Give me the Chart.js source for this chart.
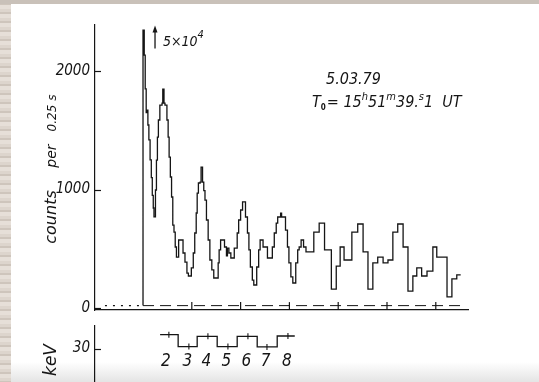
<!DOCTYPE html>
<html>
<head>
<meta charset="utf-8">
<script src="https://cdn.jsdelivr.net/npm/chart.js"></script>
<style>
html, body { margin: 0; padding: 0; }
body { width: 539px; height: 382px; overflow: hidden; position: relative; background: #fff; }
#edgeLeft { position: absolute; left: 0; top: 0; width: 11px; height: 382px;
  background: repeating-linear-gradient(180deg, #ddd5cd 0 3px, #cec5bc 3px 5px, #e6dfd8 5px 9px); }
#edgeTop { position: absolute; left: 0; top: 0; width: 539px; height: 4px; background: #c9c1b9; }
#edgeBottom { position: absolute; left: 0; top: 362px; width: 539px; height: 20px; background: linear-gradient(#fff, #e4e4e4); }
canvas { position: absolute; left: 0; }
#lc { top: 0; }
#en { top: 320px; }
</style>
</head>
<body>
<div id="edgeBottom"></div>
<div id="edgeLeft"></div>
<div id="edgeTop"></div>
<canvas id="lc" width="539" height="320"></canvas>
<canvas id="en" width="539" height="100"></canvas>
<script>
// light curve: time from T0 (s) where each step starts, counts per 0.25 s
const lcTime = [0, 0, 0.25, 0.45, 0.65, 0.8, 1.0, 1.2, 1.45, 1.7,
  1.9, 2.1, 2.25, 2.55, 2.75, 2.95, 3.15, 3.45, 3.9, 4.05,
  4.3, 4.5, 4.9, 5.15, 5.35, 5.6, 5.85, 6.1, 6.35, 6.6,
  6.85, 7.3, 8.2, 8.6, 9.0, 9.3, 9.9, 10.3, 10.6, 10.9,
  11.1, 11.35, 11.7, 11.9, 12.2, 12.45, 12.7, 13.0, 13.35, 13.7,
  14.1, 14.5, 15.4, 15.6, 15.9, 16.7, 17.1, 17.3, 17.6, 18.0,
  18.7, 19.3, 19.6, 20.0, 20.4, 21.0, 21.4, 21.7, 22.0, 22.4,
  22.7, 23.3, 23.7, 24.0, 24.6, 25.5, 26.5, 26.9, 27.3, 27.6,
  28.2, 28.4, 29.2, 29.6, 29.9, 30.3, 30.7, 31.3, 31.7, 32.0,
  32.4, 32.9, 33.4, 35.0, 36.1, 37.2, 38.6, 39.6, 40.4, 41.2,
  42.8, 44.0, 45.1, 46.1, 47.1, 48.1, 49.2, 50.2, 51.2, 52.2,
  53.3, 54.3, 55.3, 56.1, 57.1, 58.2, 59.4, 60.2, 62.3, 63.3,
  64.3, 65.1];
const lcCounts = [20, 2346, 2135, 1850, 1650, 1670, 1545, 1420, 1250, 1100,
  950, 844, 770, 996, 1249, 1443, 1587, 1713, 1730, 1848,
  1730, 1713, 1587, 1443, 1274, 1106, 937, 700, 641, 515,
  430, 574, 464, 388, 295, 270, 338, 464, 633, 802,
  970, 1055, 1063, 1190, 1063, 990, 911, 743, 574, 405,
  321, 253, 380, 490, 574, 515, 440, 506, 464, 422,
  506, 633, 743, 827, 895, 768, 633, 490, 346, 236,
  194, 346, 490, 574, 515, 422, 515, 633, 717, 768,
  800, 768, 658, 515, 380, 262, 211, 380, 490, 515,
  574, 515, 473, 641, 717, 490, 160, 354, 515, 405,
  641, 709, 473, 160, 380, 430, 380, 405, 641, 709,
  515, 143, 270, 338, 270, 312, 515, 430, 93, 245,
  279, 279];

const bgLevel = 20;
const bgTime = [0, 66];
const preTime = [-7.8, -0.6];
const markTimes = [10, 20, 30, 40, 50, 60];
const countTicks = [0, 1000, 2000];

// spectral hardness (keV) per half period, step edges in s
const eEdges = [3.5, 7.2, 11.1, 15.2, 19.3, 23.4, 27.5, 31.1];
const eValues = [34.1, 30.6, 33.6, 30.6, 33.6, 30.5, 33.7];
const eMarkTimes = [5.3, 9.4, 13.3, 17.4, 21.5, 25.4, 29.7];
const pulseNumbers = ['2', '3', '4', '5', '6', '7', '8'];
const pulseLabelTimes = [4.7, 9.1, 13.0, 17.1, 21.2, 25.1, 29.5];
const energyTicks = [30];

const INK = '#151515';
const NARROW = '"Liberation Sans Narrow", "DejaVu Sans Condensed", sans-serif';

const tMin = -9.84, tMax = 66.6;

const lcPoints = lcTime.map((t, i) => ({x: t, y: lcCounts[i]}));
const bgPoints = bgTime.map(t => ({x: t, y: bgLevel}));
const prePoints = preTime.map(t => ({x: t, y: bgLevel}));
const markPoints = markTimes.map(t => ({x: t, y: bgLevel}));

// small tick marks pointing into the plot
const innerTicks = {
  id: 'innerTicks',
  afterDraw(chart) {
    const ctx = chart.ctx, y = chart.scales.y;
    ctx.save();
    ctx.strokeStyle = INK;
    ctx.lineWidth = 1.2;
    y.ticks.forEach(t => {
      const py = Math.round(y.getPixelForValue(t.value)) + 0.5;
      ctx.beginPath();
      ctx.moveTo(y.right, py);
      ctx.lineTo(y.right + 6, py);
      ctx.stroke();
    });
    ctx.restore();
  }
};

function drawPieces(ctx, x, y, pieces) {
  pieces.forEach(p => {
    ctx.font = p.font;
    ctx.fillText(p.text, x, y + (p.dy || 0));
    x += ctx.measureText(p.text).width + (p.gap || 0);
  });
}

function fixAxisWidth(scale) {
  scale.width = 95;
  scale.paddingTop = 0;
  scale.paddingBottom = 0;
}

const lcText = {
  id: 'lcText',
  afterDraw(chart) {
    const ctx = chart.ctx, xs = chart.scales.x, ys = chart.scales.y;
    ctx.save();
    ctx.fillStyle = INK;
    ctx.strokeStyle = INK;

    // axis title, rotated
    const parts = [['counts', 16, 217], ['per', 14, 156], ['0.25 s', 12, 113]];
    parts.forEach(([txt, size, cy]) => {
      ctx.save();
      ctx.translate(56, cy);
      ctx.rotate(-Math.PI / 2);
      ctx.textAlign = 'center';
      ctx.textBaseline = 'alphabetic';
      ctx.font = 'italic ' + size + 'px "DejaVu Sans"';
      ctx.fillText(txt, 0, 0);
      ctx.restore();
    });

    // off-scale arrow for the first spike
    const ax = xs.getPixelForValue(2.46);
    const a0 = ys.getPixelForValue(2190), a1 = ys.getPixelForValue(2385);
    ctx.lineWidth = 1.3;
    ctx.beginPath();
    ctx.moveTo(ax, a0);
    ctx.lineTo(ax, a1 + 4);
    ctx.stroke();
    ctx.beginPath();
    ctx.moveTo(ax, a1);
    ctx.lineTo(ax - 2.5, a1 + 7);
    ctx.lineTo(ax + 2.5, a1 + 7);
    ctx.closePath();
    ctx.fill();

    ctx.textAlign = 'left';
    ctx.textBaseline = 'alphabetic';
    drawPieces(ctx, 163, 46, [
      {text: '5\u00d710', font: 'italic 14px ' + NARROW},
      {text: '4', font: 'italic 11px ' + NARROW, dy: -8}
    ]);

    ctx.font = 'italic 16px ' + NARROW;
    ctx.fillText('5.03.79', 326, 84);

    drawPieces(ctx, 312, 107, [
      {text: 'T', font: 'italic 16px ' + NARROW},
      {text: '0', font: 'bold 8px ' + NARROW, dy: 3, gap: 1},
      {text: '= 15', font: 'italic 16px ' + NARROW},
      {text: 'h', font: 'italic 11px ' + NARROW, dy: -7},
      {text: '51', font: 'italic 16px ' + NARROW},
      {text: 'm', font: 'italic 11px ' + NARROW, dy: -7},
      {text: '39.', font: 'italic 16px ' + NARROW},
      {text: 's', font: 'italic 11px ' + NARROW, dy: -7},
      {text: '1  UT', font: 'italic 16px ' + NARROW}
    ]);
    ctx.restore();
  }
};

new Chart(document.getElementById('lc').getContext('2d'), {
  type: 'line',
  data: {
    datasets: [{
      data: lcPoints,
      stepped: 'before',
      borderColor: INK,
      borderWidth: 1.3,
      pointRadius: 0,
      fill: false
    }, {
      data: bgPoints,
      borderColor: INK,
      borderWidth: 1,
      borderDash: [11, 6],
      pointRadius: 0
    }, {
      data: prePoints,
      borderColor: INK,
      borderWidth: 1.3,
      borderDash: [2, 6],
      pointRadius: 0
    }, {
      data: markPoints,
      showLine: false,
      pointStyle: 'line',
      rotation: 90,
      pointRadius: 3.5,
      borderColor: INK,
      borderWidth: 1.2
    }]
  },
  options: {
    responsive: false,
    animation: false,
    devicePixelRatio: 1,
    layout: { padding: { left: 0, right: 71, top: 25, bottom: 0 } },
    plugins: { legend: { display: false }, tooltip: { enabled: false } },
    scales: {
      x: {
        type: 'linear',
        min: tMin,
        max: tMax,
        grid: { display: false, drawTicks: false },
        ticks: { display: false },
        border: { display: true, color: INK, width: 1.2 },
        afterFit(scale) { scale.height = 10; }
      },
      y: {
        min: -17,
        max: 2389,
        grid: { display: false, drawTicks: false },
        border: { display: true, color: INK, width: 1.2 },
        ticks: {
          padding: 5,
          color: INK,
          font: { family: NARROW, size: 15, style: 'italic', lineHeight: 1 },
          callback: v => String(v)
        },
        afterBuildTicks(scale) { scale.ticks = countTicks.map(v => ({value: v})); },
        afterFit: fixAxisWidth
      }
    }
  },
  plugins: [innerTicks, lcText]
});

// lower panel
const ePoints = eEdges.map((t, i) => ({x: t, y: eValues[Math.min(i, eValues.length - 1)]}));
const eMarks = eMarkTimes.map((t, i) => ({x: t, y: eValues[i]}));

const enText = {
  id: 'enText',
  afterDraw(chart) {
    const ctx = chart.ctx, xs = chart.scales.x, ys = chart.scales.y;
    ctx.save();
    ctx.fillStyle = INK;
    ctx.font = 'italic 17px ' + NARROW;
    ctx.textAlign = 'center';
    ctx.textBaseline = 'middle';
    const ly = ys.getPixelForValue(Math.min(...eValues)) + 15;
    pulseNumbers.forEach((n, i) => ctx.fillText(n, xs.getPixelForValue(pulseLabelTimes[i]), ly));

    ctx.translate(56, 24);
    ctx.rotate(-Math.PI / 2);
    ctx.textAlign = 'right';
    ctx.textBaseline = 'alphabetic';
    ctx.font = 'italic 17px "DejaVu Sans"';
    ctx.fillText('E, keV', 0, 0);
    ctx.restore();
  }
};

new Chart(document.getElementById('en').getContext('2d'), {
  type: 'line',
  data: {
    datasets: [{
      data: ePoints,
      stepped: 'before',
      borderColor: INK,
      borderWidth: 1.3,
      pointRadius: 0
    }, {
      data: eMarks,
      showLine: false,
      pointStyle: 'line',
      rotation: 90,
      pointRadius: 3,
      borderColor: INK,
      borderWidth: 1.1
    }]
  },
  options: {
    responsive: false,
    animation: false,
    devicePixelRatio: 1,
    layout: { padding: { left: 0, right: 71, top: 5, bottom: 20 } },
    plugins: { legend: { display: false }, tooltip: { enabled: false } },
    scales: {
      x: { type: 'linear', min: tMin, max: tMax, display: false },
      y: {
        min: 14.9,
        max: 36.9,
        grid: { display: false, drawTicks: false },
        border: { display: true, color: INK, width: 1.2 },
        ticks: {
          padding: 5,
          color: INK,
          font: { family: NARROW, size: 15, style: 'italic', lineHeight: 1 }
        },
        afterBuildTicks(scale) { scale.ticks = energyTicks.map(v => ({value: v})); },
        afterFit: fixAxisWidth
      }
    }
  },
  plugins: [innerTicks, enText]
});
</script>
</body>
</html>
